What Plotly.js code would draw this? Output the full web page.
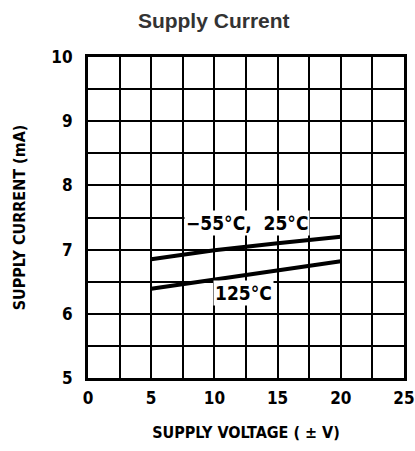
<!DOCTYPE html>
<html><head><meta charset="utf-8">
<script src="https://cdn.plot.ly/plotly-3.0.1.min.js"></script>
<style>body{margin:0;background:#fff}#chart{width:415px;height:451px}
.xtick text,.ytick text,.xtitle,.ytitle,.annotation-text{font-stretch:condensed}</style>
</head><body><div id="chart"></div>
<script>
const supplyVoltage = [5, 10, 15, 20];
const currentCold = [6.85, 6.99, 7.10, 7.20];   // -55°C, 25°C
const currentHot = [6.39, 6.53, 6.67, 6.82];    // 125°C
const labelCold = "\u221255\u00b0C,  25\u00b0C";
const labelHot = "125\u00b0C";

const narrow = '"DejaVu Sans Condensed", "Liberation Sans Narrow", "Roboto Condensed", Roboto, sans-serif';
const lineStyle = {color: '#000', width: 4};

const traces = [
  {x: supplyVoltage, y: currentCold, mode: 'lines', line: lineStyle, hoverinfo: 'skip'},
  {x: supplyVoltage, y: currentHot, mode: 'lines', line: lineStyle, hoverinfo: 'skip'}
];

const axisCommon = {
  showgrid: true, gridcolor: '#000', gridwidth: 2,
  showline: true, linecolor: '#000', linewidth: 3, mirror: true,
  zeroline: false, ticks: '', fixedrange: true, ticklabeloverflow: 'allow',
  tickfont: {family: narrow, size: 17, color: '#000', weight: 'bold'}
};

const layout = {
  width: 415, height: 451,
  margin: {l: 88, r: 11, t: 57, b: 73},
  paper_bgcolor: '#fff', plot_bgcolor: '#fff',
  showlegend: false,
  title: {text: 'Supply Current', x: 0.515, xanchor: 'center', y: 0.955, yanchor: 'middle',
          font: {family: 'Liberation Sans, Arial, sans-serif', size: 21, color: '#333', weight: 'bold'}},
  xaxis: Object.assign({}, axisCommon, {
    range: [0, 25], dtick: 5, tick0: 0,
    minor: {dtick: 2.5, showgrid: true, gridcolor: '#000', gridwidth: 2},
    ticklabelstandoff: 3,
    title: {text: 'SUPPLY VOLTAGE ( \u00b1 V)', standoff: 20,
            font: {family: narrow, size: 16, color: '#000', weight: 'bold'}}
  }),
  yaxis: Object.assign({}, axisCommon, {
    range: [5, 10], dtick: 1, tick0: 5,
    minor: {dtick: 0.5, showgrid: true, gridcolor: '#000', gridwidth: 2},
    ticklabelstandoff: 9,
    title: {text: 'SUPPLY CURRENT (mA)', standoff: 22,
            font: {family: narrow, size: 16, color: '#000', weight: 'bold'}}
  }),
  annotations: [
    {x: 12.6, y: 7.41, xref: 'x', yref: 'y', text: labelCold, showarrow: false,
     bgcolor: '#fff', font: {family: narrow, size: 19, color: '#000', weight: 'bold'}},
    {x: 12.3, y: 6.33, xref: 'x', yref: 'y', text: labelHot, showarrow: false,
     bgcolor: '#fff', font: {family: narrow, size: 19, color: '#000', weight: 'bold'}}
  ]
};

Plotly.newPlot('chart', traces, layout, {displayModeBar: false, staticPlot: true});
</script></body></html>
